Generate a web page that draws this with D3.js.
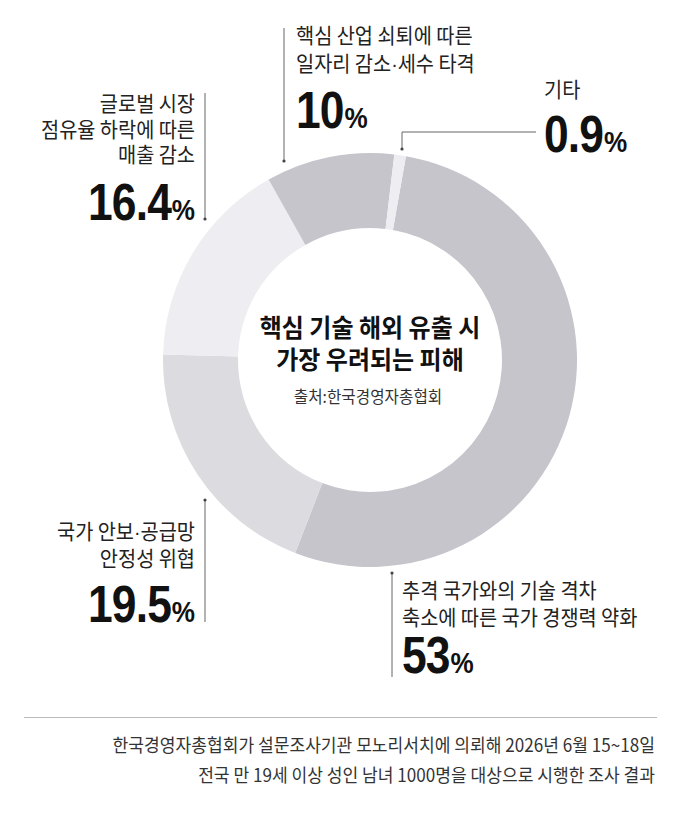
<!DOCTYPE html>
<html>
<head>
<meta charset="utf-8">
<script src="https://cdn.jsdelivr.net/npm/d3@7"></script>
<style>
  body { margin: 0; background: #fff; }
  svg { display: block; }
</style>
</head>
<body>
<script>
// values (order = clockwise from top)
const categories = ['53', '19.5', '16.4', '10', '0.9'];
const values = [53, 19.5, 16.4, 10, 0.9];
const labelLines = [
  ['추격 국가와의 기술 격차', '축소에 따른 국가 경쟁력 약화'],
  ['국가 안보·공급망', '안정성 위협'],
  ['글로벌 시장', '점유율 하락에 따른', '매출 감소'],
  ['핵심 산업 쇠퇴에 따른', '일자리 감소·세수 타격'],
  ['기타']
];
const colors = ['#c7c5cc', '#dcdbe0', '#eeedf1', '#c7c5cc', '#eeedf1'];

const width = 679, height = 813;
const cx = 370, cy = 360;
const outerR = 207, innerR = 132;

const korFont = "'Noto Sans CJK KR', 'Noto Sans', sans-serif";
const numFont = "'Liberation Sans', Arial, sans-serif";

var svg = d3.select('body').append('svg')
    .attr('width', width)
    .attr('height', height);

/******* donut ********/
const start = 10 * Math.PI / 180;
var pie = d3.pie().sort(null)
    .startAngle(start)
    .endAngle(start + 2 * Math.PI);
var arc = d3.arc().innerRadius(innerR).outerRadius(outerR);

svg.append('g')
    .attr('transform', `translate(${cx},${cy})`)
  .selectAll('path')
  .data(pie(values))
  .enter()
  .append('path')
    .attr('d', arc)
    .attr('fill', (d, i) => colors[i]);

// the CJK middle dot is full width; use the narrow latin one instead
function korText(sel, t) {
  var parts = t.split('·');
  parts.forEach(function(p, k) {
    if (k > 0) sel.append('tspan').attr('font-family', numFont).text('·');
    sel.append('tspan').text(p);
  });
}

/******* labels ********/
// x, anchor, text baselines, number baseline, leader path + dot
const layout = [
  { x: 402, anchor: 'start', lines: [598, 625], num: 673, leader: [[392, 573], [392, 677]], dot: [392, 573] },
  { x: 195, anchor: 'end', lines: [539, 566], num: 622, leader: [[205, 500], [205, 622]], dot: [205, 500] },
  { x: 195, anchor: 'end', lines: [111, 137, 162], num: 220, leader: [[205, 93], [205, 219]], dot: [205, 219] },
  { x: 296, anchor: 'start', lines: [43, 71], num: 128, leader: [[284, 28], [284, 161]], dot: [284, 161] },
  { x: 544, anchor: 'start', lines: [97], num: 152, leader: [[536, 132], [402, 132], [402, 149]], dot: [402, 149] }
];

var labels = svg.append('g');

categories.forEach(function(cat, i) {
  var L = layout[i];
  var g = labels.append('g');

  g.append('path')
    .attr('d', d3.line()(L.leader))
    .attr('fill', 'none')
    .attr('stroke', '#666')
    .attr('stroke-width', 1);
  g.append('circle')
    .attr('cx', L.dot[0]).attr('cy', L.dot[1])
    .attr('r', 1.6)
    .attr('fill', '#444');

  labelLines[i].forEach(function(t, j) {
    var txt = g.append('text')
      .attr('transform', `translate(${L.x},${L.lines[j]}) scale(0.94,1)`)
      .attr('text-anchor', L.anchor)
      .attr('font-family', korFont)
      .attr('font-size', 21)
      .attr('fill', '#222');
    korText(txt, t);
  });

  var num = g.append('text')
    .attr('transform', `translate(${L.x},${L.num}) scale(0.87,1)`)
    .attr('text-anchor', L.anchor)
    .attr('font-family', numFont)
    .attr('fill', '#111');
  num.append('tspan')
    .attr('font-size', 51)
    .attr('font-weight', 'bold')
    .attr('letter-spacing', -1)
    .text(cat);
  num.append('tspan')
    .attr('font-size', 30)
    .attr('font-weight', 'bold')
    .attr('dx', 1)
    .text('%');
});

/******* center title ********/
const titleLines = ['핵심 기술 해외 유출 시', '가장 우려되는 피해'];
const titleBase = [337, 369];
titleLines.forEach(function(t, j) {
  svg.append('text')
    .attr('transform', `translate(${cx},${titleBase[j]}) scale(0.96,1)`)
    .attr('text-anchor', 'middle')
    .attr('font-family', korFont)
    .attr('font-size', 25)
    .attr('font-weight', 'bold')
    .attr('fill', '#111')
    .text(t);
});
svg.append('text')
  .attr('transform', `translate(${cx - 2},${403}) scale(0.95,1)`)
  .attr('text-anchor', 'middle')
  .attr('font-family', korFont)
  .attr('font-size', 16.5)
  .attr('fill', '#333')
  .text('출처:한국경영자총협회');

/******* footnote ********/
svg.append('line')
  .attr('x1', 24).attr('x2', 657)
  .attr('y1', 717.5).attr('y2', 717.5)
  .attr('stroke', '#bbb')
  .attr('stroke-width', 1);

const notes = [
  '한국경영자총협회가 설문조사기관 모노리서치에 의뢰해 2026년 6월 15~18일',
  '전국 만 19세 이상 성인 남녀 1000명을 대상으로 시행한 조사 결과'
];
const noteBase = [752, 782];
notes.forEach(function(t, j) {
  svg.append('text')
    .attr('transform', `translate(655,${noteBase[j]}) scale(0.95,1)`)
    .attr('text-anchor', 'end')
    .attr('font-family', korFont)
    .attr('font-size', 18)
    .attr('fill', '#333')
    .text(t);
});
</script>
</body>
</html>
